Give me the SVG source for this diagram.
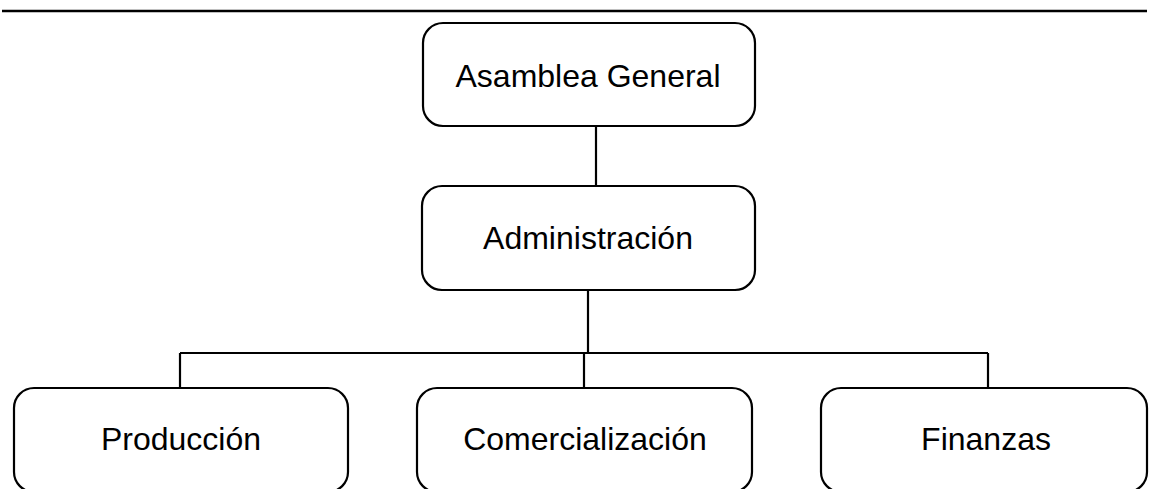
<svg xmlns="http://www.w3.org/2000/svg" width="1149" height="489" viewBox="0 0 1149 489">
<style>
.box{fill:#fff;stroke:#000;stroke-width:2.2}
.lbl{font-family:"Liberation Sans",Arial,sans-serif;font-size:32px;fill:#000;text-anchor:middle}
.con{fill:none;stroke:#000;stroke-width:2.2}
</style>
<rect width="1149" height="489" fill="#fff"/>
<line x1="2" y1="11" x2="1147" y2="11" stroke="#000" stroke-width="2.5"/>
<g id="connectors">
<line class="con" x1="596" y1="126" x2="596" y2="186"/>
<line class="con" x1="588" y1="290" x2="588" y2="353" stroke-width="3"/>
<line class="con" x1="180" y1="353" x2="988" y2="353"/>
<line class="con" x1="180" y1="353" x2="180" y2="388"/>
<line class="con" x1="584" y1="353" x2="584" y2="388"/>
<line class="con" x1="988" y1="353" x2="988" y2="388"/>
</g>
<g id="asamblea">
<rect class="box" x="423" y="23" width="332" height="103" rx="20"/>
<text class="lbl" x="588" y="87">Asamblea General</text>
</g>
<g id="administracion">
<rect class="box" x="422" y="186" width="333" height="104" rx="20"/>
<text class="lbl" x="588" y="249">Administración</text>
</g>
<g id="produccion">
<rect class="box" x="14" y="388" width="334" height="104" rx="20"/>
<text class="lbl" x="181" y="450">Producción</text>
</g>
<g id="comercializacion">
<rect class="box" x="417" y="388" width="335" height="104" rx="20"/>
<text class="lbl" x="585" y="450">Comercialización</text>
</g>
<g id="finanzas">
<rect class="box" x="821" y="388" width="326" height="104" rx="20"/>
<text class="lbl" x="986" y="450">Finanzas</text>
</g>
</svg>
